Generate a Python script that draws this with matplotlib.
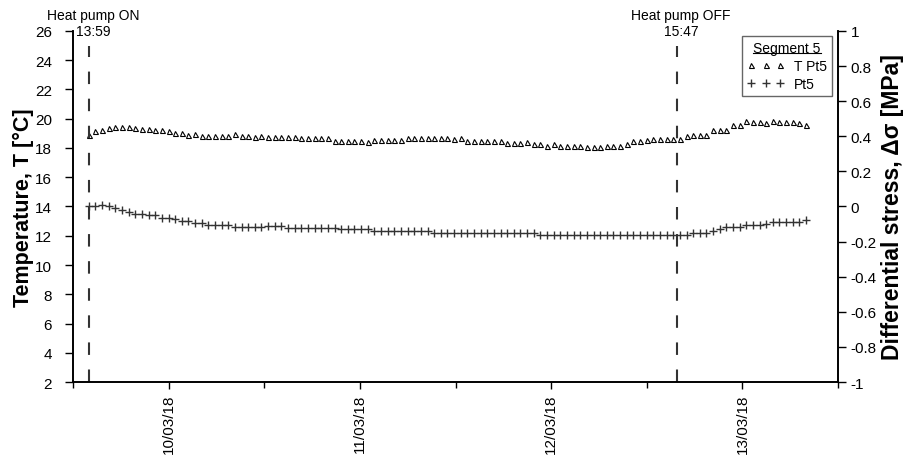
import numpy as np
import pandas as pd
import matplotlib
matplotlib.use('Agg')
import matplotlib.pyplot as plt
import matplotlib.dates as mdates
from matplotlib.lines import Line2D
from matplotlib.ticker import FuncFormatter, MultipleLocator

plt.rcParams['font.family'] = ['Liberation Sans', 'DejaVu Sans']
plt.rcParams['axes.unicode_minus'] = False

# Данные: отсчёты каждые 50 минут с момента включения насоса
times = pd.date_range('2018-03-09 13:59', periods=109, freq='50min')

temp_pt5 = [
    18.9, 19.15, 19.25, 19.35, 19.45, 19.45, 19.45, 19.35, 19.3, 19.3,
    19.25, 19.2, 19.15, 19.05, 19.05, 18.9, 18.95, 18.85, 18.85, 18.85,
    18.85, 18.85, 18.95, 18.85, 18.85, 18.75, 18.85, 18.75, 18.75, 18.75,
    18.75, 18.75, 18.65, 18.65, 18.65, 18.65, 18.65, 18.5, 18.5, 18.5,
    18.5, 18.5, 18.4, 18.55, 18.55, 18.55, 18.55, 18.55, 18.7, 18.7,
    18.7, 18.7, 18.7, 18.7, 18.7, 18.6, 18.7, 18.45, 18.45, 18.45,
    18.45, 18.45, 18.45, 18.35, 18.35, 18.35, 18.4, 18.3, 18.3, 18.15,
    18.3, 18.15, 18.15, 18.15, 18.15, 18.05, 18.05, 18.05, 18.15, 18.15,
    18.15, 18.3, 18.45, 18.45, 18.55, 18.6, 18.6, 18.6, 18.6, 18.6,
    18.8, 18.9, 18.9, 18.9, 19.2, 19.2, 19.2, 19.6, 19.6, 19.85,
    19.75, 19.75, 19.7, 19.85, 19.75, 19.75, 19.75, 19.7, 19.55,
]

stress_pt5 = [
    0.0, 0.0, 0.01, 0.0, -0.008, -0.02, -0.03, -0.04, -0.04, -0.05,
    -0.05, -0.063, -0.063, -0.07, -0.082, -0.082, -0.092, -0.092, -0.105, -0.105,
    -0.105, -0.105, -0.115, -0.115, -0.115, -0.115, -0.115, -0.11, -0.11, -0.11,
    -0.12, -0.12, -0.12, -0.12, -0.12, -0.12, -0.12, -0.12, -0.13, -0.13,
    -0.13, -0.13, -0.13, -0.138, -0.138, -0.138, -0.138, -0.138, -0.138, -0.138,
    -0.138, -0.138, -0.15, -0.15, -0.15, -0.15, -0.15, -0.15, -0.15, -0.15,
    -0.15, -0.15, -0.15, -0.15, -0.15, -0.15, -0.15, -0.15, -0.161, -0.161,
    -0.161, -0.161, -0.161, -0.161, -0.161, -0.161, -0.161, -0.161, -0.161, -0.161,
    -0.161, -0.161, -0.161, -0.161, -0.161, -0.161, -0.161, -0.161, -0.161, -0.161,
    -0.161, -0.15, -0.15, -0.15, -0.14, -0.128, -0.118, -0.118, -0.118, -0.107,
    -0.107, -0.107, -0.1, -0.09, -0.09, -0.09, -0.09, -0.09, -0.077,
]

events = [pd.Timestamp('2018-03-09 13:59'), pd.Timestamp('2018-03-12 15:47')]
event_labels = ['Heat pump ON\n13:59', 'Heat pump OFF\n15:47']

fig = plt.figure(figsize=(9.06, 4.56), dpi=100)
ax = fig.add_axes([0.0806, 0.160, 0.8444, 0.770])
ax2 = ax.twinx()

# Температура (левая ось)
l1, = ax.plot(times, temp_pt5, linestyle='none', marker='^', markersize=3.6,
              markerfacecolor='none', markeredgecolor='black', markeredgewidth=0.8,
              label='T Pt5')
# Напряжение (правая ось)
l2, = ax2.plot(times, stress_pt5, linestyle='none', marker='+', markersize=5.5,
               color='#333333', markeredgewidth=1.0, label='Pt5')

# Включение / выключение насоса
for t, lab in zip(events, event_labels):
    ax.vlines(t, 2, 25, colors='#333333', linewidth=1.5, linestyles=(0, (6, 7)))
    ax.annotate(lab, xy=(mdates.date2num(t), 1.0), xycoords=('data', 'axes fraction'),
                xytext=(3, -5), textcoords='offset points', ha='center', va='bottom',
                fontsize=10, linespacing=1.15)

ax.set_xlim(pd.Timestamp('2018-03-09 12:00'), pd.Timestamp('2018-03-13 12:00'))
ax.xaxis.set_major_locator(mdates.DayLocator())
ax.xaxis.set_major_formatter(mdates.DateFormatter('%d/%m/%y'))
ax.xaxis.set_minor_locator(mdates.HourLocator(byhour=[12]))
ax.tick_params(axis='x', which='major', labelrotation=90, labelsize=11, length=5, width=1, pad=3)
ax.tick_params(axis='x', which='minor', length=4, width=1)

ax.set_ylim(2, 26)
ax.yaxis.set_major_locator(MultipleLocator(2))
ax.tick_params(axis='y', labelsize=11, length=6, width=1, pad=9)
ax.set_ylabel('Temperature, T [°C]', fontsize=15.5, fontweight='bold', labelpad=1)

ax2.set_ylim(-1, 1)
ax2.yaxis.set_major_locator(MultipleLocator(0.2))
ax2.yaxis.set_major_formatter(FuncFormatter(lambda v, p: '%g' % round(v, 1)))
ax2.tick_params(axis='y', labelsize=11, length=6, width=1, pad=3)
ax2.set_ylabel('Differential stress, Δσ [MPa]', fontsize=16.5, fontweight='bold', labelpad=3)

for a in (ax, ax2):
    a.spines['top'].set_visible(False)
    for s in ('left', 'right', 'bottom'):
        a.spines[s].set_linewidth(1.2)

leg = ax.legend(handles=[l1, l2], title='Segment 5',
                loc='upper right', bbox_to_anchor=(0.992, 0.986), borderaxespad=0,
                numpoints=3, handlelength=2.7, handletextpad=0.7, borderpad=0.35,
                labelspacing=0.3, fontsize=10, title_fontsize=10,
                fancybox=False, edgecolor='#666666', framealpha=1)
leg.get_frame().set_linewidth(1.0)
leg.set_zorder(5)

# подчёркивание заголовка легенды
fig.canvas.draw()
bb = leg.get_title().get_window_extent().transformed(fig.transFigure.inverted())
fig.add_artist(Line2D([bb.x0, bb.x1], [bb.y0 + 0.003, bb.y0 + 0.003],
                      transform=fig.transFigure, color='black', linewidth=0.8))

fig.savefig('out.png', dpi=100)
